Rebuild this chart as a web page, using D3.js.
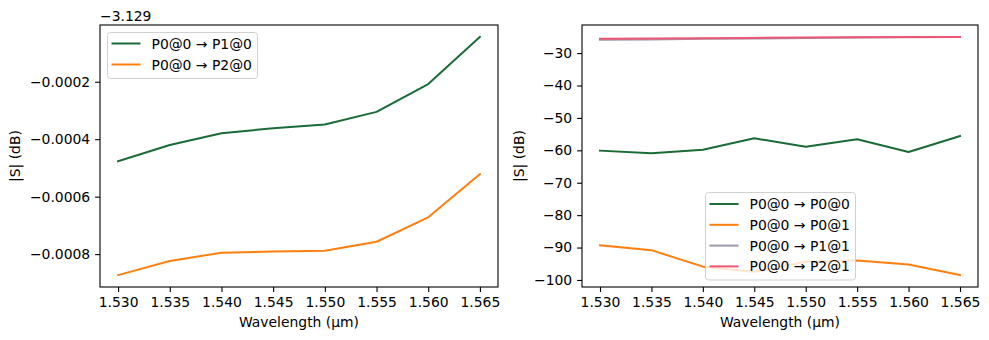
<!DOCTYPE html>
<html>
<head>
<meta charset="utf-8">
<script src="https://cdn.jsdelivr.net/npm/d3@7"></script>
<style>
  html, body { margin: 0; padding: 0; background: #fff; }
  svg { display: block; font-family: "DejaVu Sans", sans-serif; }
</style>
</head>
<body>
<svg id="chart" width="989" height="340"></svg>
<script>
// ---------- data ----------
const wavelengths = [1.530, 1.535, 1.540, 1.545, 1.550, 1.555, 1.560, 1.565];
const xTicks = [1.530, 1.535, 1.540, 1.545, 1.550, 1.555, 1.560, 1.565];

// Left panel (values in dB, shown relative to offset)
const leftOffset = -3.129;
const s_P0_P1_0 = [-3.129477, -3.129420, -3.129379, -3.129362, -3.129349, -3.129305, -3.129208, -3.129044];
const s_P0_P2_0 = [-3.129873, -3.129824, -3.129795, -3.129791, -3.129788, -3.129757, -3.129672, -3.129522];
const leftYTicks = [-0.0002, -0.0004, -0.0006, -0.0008];

// Right panel
const s_P0_P0_0 = [-60.1, -60.9, -59.8, -56.3, -58.9, -56.6, -60.5, -55.6];
const s_P0_P0_1 = [-89.3, -90.8, -95.9, -97.5, -94.4, -94.0, -95.2, -98.5];
const s_P0_P1_1 = [-25.9, -25.8, -25.6, -25.5, -25.3, -25.2, -25.1, -25.0];
const s_P0_P2_1 = [-25.6, -25.5, -25.4, -25.3, -25.2, -25.1, -25.05, -25.0];
const rightYTicks = [-30, -40, -50, -60, -70, -80, -90, -100];

const leftSeries = [
  { name: "P0@0 \u2192 P1@0", values: s_P0_P1_0, color: "#1b6b37" },
  { name: "P0@0 \u2192 P2@0", values: s_P0_P2_0, color: "#ff7f0e" }
];
const rightSeries = [
  { name: "P0@0 \u2192 P0@0", values: s_P0_P0_0, color: "#1b6b37" },
  { name: "P0@0 \u2192 P0@1", values: s_P0_P0_1, color: "#ff7f0e" },
  { name: "P0@0 \u2192 P1@1", values: s_P0_P1_1, color: "#9a9aaa" },
  { name: "P0@0 \u2192 P2@1", values: s_P0_P2_1, color: "#ef5575" }
];

// ---------- drawing ----------
const svg = d3.select("#chart");
const FS = 13.9;

function padDomain(vals) {
  const [lo, hi] = d3.extent(vals);
  const m = (hi - lo) * 0.05;
  return [lo - m, hi + m];
}

function panel(opts) {
  const { x0, x1, y0, y1, series, yTicks, yFmt, legend } = opts;
  const g = svg.append("g");
  const x = d3.scaleLinear().domain(padDomain(wavelengths)).range([x0, x1]);
  const y = d3.scaleLinear().domain(padDomain(series.flatMap(s => s.values))).range([y1, y0]);

  // clip
  const cid = "clip" + x0;
  svg.append("defs").append("clipPath").attr("id", cid)
    .append("rect").attr("x", x0).attr("y", y0).attr("width", x1 - x0).attr("height", y1 - y0);

  // lines
  const line = d3.line().x((d, i) => x(wavelengths[i])).y(d => y(d));
  const lg = g.append("g").attr("clip-path", `url(#${cid})`);
  series.forEach(s => {
    lg.append("path").datum(s.values).attr("d", line)
      .attr("fill", "none").attr("stroke", s.color).attr("stroke-width", 2)
      .attr("stroke-linejoin", "round").attr("stroke-linecap", "square");
  });

  // axes
  const xAxis = d3.axisBottom(x).tickValues(xTicks).tickFormat(d3.format(".3f")).tickSize(4.9).tickPadding(4.9);
  const yAxis = d3.axisLeft(y).tickValues(yTicks.map(t => t + (opts.offset || 0))).tickFormat(yFmt).tickSize(4.9).tickPadding(4.9);
  const gx = g.append("g").attr("transform", `translate(0,${y1})`).call(xAxis);
  const gy = g.append("g").attr("transform", `translate(${x0},0)`).call(yAxis);
  [gx, gy].forEach(a => {
    a.select(".domain").remove();
    a.selectAll("line").attr("stroke", "#000").attr("stroke-width", 1.1);
    a.selectAll("text").attr("font-size", FS).attr("font-family", "DejaVu Sans").attr("fill", "#000");
  });

  // frame
  g.append("rect").attr("x", x0).attr("y", y0).attr("width", x1 - x0).attr("height", y1 - y0)
    .attr("fill", "none").attr("stroke", "#000").attr("stroke-width", 1.1);

  // labels
  g.append("text").attr("x", (x0 + x1) / 2).attr("y", 327).attr("text-anchor", "middle")
    .attr("font-size", FS).text("Wavelength (\u00b5m)");
  g.append("text").attr("transform", `translate(${opts.ylabX},${(y0 + y1) / 2}) rotate(-90)`)
    .attr("text-anchor", "middle").attr("font-size", FS).text("|S| (dB)");

  // legend
  const L = legend;
  const leg = g.append("g");
  leg.append("rect").attr("x", L.x).attr("y", L.y).attr("width", L.w).attr("height", L.h)
    .attr("rx", 3).attr("fill", "#fff").attr("fill-opacity", 0.8)
    .attr("stroke", "#d0d0d0").attr("stroke-width", 1);
  series.forEach((s, i) => {
    const cy = L.y + L.first + i * L.step;
    leg.append("line").attr("x1", L.x + 4).attr("x2", L.x + 33).attr("y1", cy).attr("y2", cy)
      .attr("stroke", s.color).attr("stroke-width", 2);
    leg.append("text").attr("x", L.x + 44).attr("y", cy).attr("dy", "0.36em")
      .attr("font-size", FS).text(s.name);
  });
  return { x, y, g };
}

const left = panel({
  x0: 100, x1: 498, y0: 25, y1: 287,
  series: leftSeries, yTicks: leftYTicks, offset: leftOffset,
  yFmt: d => d3.format(".4f")(d - leftOffset).replace("-", "\u2212"),
  ylabX: 20,
  legend: { x: 107.5, y: 32.5, w: 150, h: 46, first: 11, step: 21 }
});
left.g.append("text").attr("x", 100).attr("y", 20.5).attr("font-size", FS)
  .text("\u22123.129");

panel({
  x0: 582, x1: 978, y0: 25, y1: 287,
  series: rightSeries, yTicks: rightYTicks,
  yFmt: d => String(d).replace("-", "\u2212"),
  ylabX: 524,
  legend: { x: 705.5, y: 192.5, w: 150, h: 87.5, first: 11.5, step: 20.8 }
});
</script>
</body>
</html>
